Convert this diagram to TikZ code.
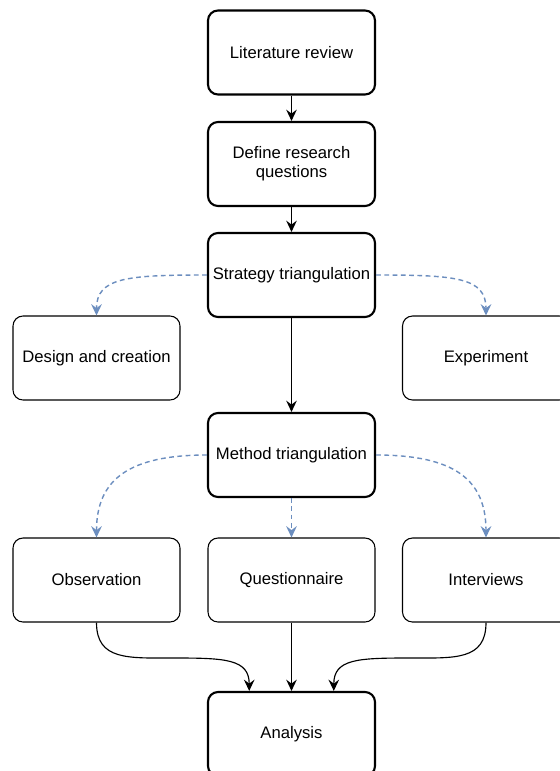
\documentclass[tikz,border=0pt]{standalone}
\usepackage{fontspec}
\setmainfont{Liberation Sans}
\usetikzlibrary{arrows.meta,calc}

\definecolor{linkblue}{HTML}{6C8EBF}

\tikzset{
  box/.style={draw=black, rounded corners=7.5pt, minimum width=125.25pt,
    minimum height=63pt, inner sep=2pt, align=center,
    font=\fontsize{12.5}{14.5}\selectfont},
  mainbox/.style={box, line width=1.6pt},
  sidebox/.style={box, line width=0.8pt},
  flow/.style={draw=black, line width=0.85pt,
    -{Stealth[length=8.5pt, width=8pt, inset=3pt]}},
  option/.style={draw=linkblue, line width=1.05pt,
    dash pattern=on 3.6pt off 2.6pt,
    -{Stealth[length=8.5pt, width=8pt, inset=3pt, fill=linkblue]}}
}

\begin{document}
\begin{tikzpicture}[x=0.75pt, y=-0.75pt]
  % page frame: the lowest box runs past the bottom edge
  \clip (0,0) rectangle (560,771);
  \fill[white] (0,0) rectangle (560,771);

  % main column
  \node[mainbox] (lit)   at (291.5, 52.5) {Literature review};
  \node[mainbox] (def)   at (291.5, 164)  {Define research\\questions};
  \node[mainbox] (strat) at (291.5, 275)  {Strategy triangulation};
  \node[mainbox] (meth)  at (291.5, 455)  {Method triangulation};
  \node[mainbox] (ana)   at (291.5, 734)  {Analysis};

  % strategies
  \node[sidebox] (design) at (96.5, 358) {Design and creation};
  \node[sidebox] (exp)    at (486, 358)  {Experiment};

  % methods
  \node[sidebox] (obs)  at (96.5, 580)  {Observation};
  \node[sidebox] (ques) at (291.5, 580) {Questionnaire};
  \node[sidebox] (int)  at (486, 580)   {Interviews};

  % points where the side methods enter the analysis box
  \coordinate (anaL) at ($(ana.north west)!0.25!(ana.north east)$);
  \coordinate (anaR) at ($(ana.north west)!0.75!(ana.north east)$);

  % solid flow
  \draw[flow] (lit) -- (def);
  \draw[flow] (def) -- (strat);
  \draw[flow] (strat) -- (meth);
  \draw[flow] (ques) -- (ana);

  % dashed branches
  \draw[option] (strat.west) .. controls +(-80,0) and +(0,-38) .. (design.north);
  \draw[option] (strat.east) .. controls +(80,0) and +(0,-38) .. (exp.north);
  \draw[option] (meth.west) .. controls +(-78,0) and +(0,-58) .. (obs.north);
  \draw[option] (meth.east) .. controls +(78,0) and +(0,-58) .. (int.north);
  \draw[option] (meth) -- (ques);

  % merging curves into analysis
  \draw[flow] (obs.south) .. controls +(0,38) and +(-45,0) .. (173.25,658)
              .. controls +(52,0) and +(0,-32) .. (anaL);
  \draw[flow] (int.south) .. controls +(0,38) and +(45,0) .. (409.75,658)
              .. controls +(-52,0) and +(0,-32) .. (anaR);
\end{tikzpicture}
\end{document}
